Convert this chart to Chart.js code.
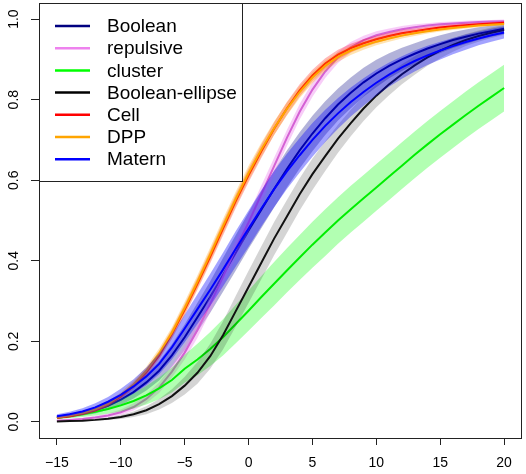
<!DOCTYPE html>
<html>
<head>
<meta charset="utf-8">
<script src="https://cdn.jsdelivr.net/npm/chart.js@4.4.1/dist/chart.umd.min.js"></script>
<style>
  body { margin: 0; background: #fff; }
  #wrap { width: 526px; height: 474px; }
</style>
</head>
<body>
<div id="wrap"><canvas id="cdfChart" width="526" height="474"></canvas></div>
<script>
// x positions of the curves (-15 .. 20)
var xValues = [-15,-14,-13,-12,-11,-10,-9,-8,-7,-6,-5,-4,-3,-2,-1,0,1,2,3,4,5,6,7,8,9,10,11,12,13,14,15,16,17,18,19,20];
var xTicks = [-15, -10, -5, 0, 5, 10, 15, 20];
var yTicks = [0, 0.2, 0.4, 0.6, 0.8, 1.0];

var seriesNames = ['Boolean', 'repulsive', 'cluster', 'Boolean-ellipse', 'Cell', 'DPP', 'Matern'];

// mean curves
var booleanMean = [0.011,0.015,0.021,0.029,0.040,0.055,0.074,0.098,0.127,0.165,0.210,0.260,0.310,0.365,0.420,0.475,0.527,0.578,0.628,0.674,0.716,0.754,0.788,0.817,0.843,0.865,0.884,0.900,0.914,0.927,0.938,0.948,0.956,0.964,0.970,0.976];
var repulsiveMean = [0.003,0.005,0.007,0.011,0.016,0.024,0.037,0.057,0.085,0.125,0.172,0.228,0.293,0.360,0.430,0.495,0.565,0.635,0.705,0.770,0.825,0.870,0.905,0.930,0.948,0.960,0.968,0.975,0.980,0.984,0.987,0.989,0.991,0.993,0.994,0.995];
var clusterMean = [0.010,0.014,0.019,0.025,0.032,0.041,0.052,0.066,0.083,0.104,0.132,0.155,0.181,0.210,0.243,0.276,0.310,0.343,0.376,0.408,0.440,0.470,0.500,0.528,0.555,0.582,0.609,0.636,0.663,0.689,0.714,0.738,0.762,0.785,0.807,0.829];
var ellipseMean = [0.001,0.002,0.003,0.005,0.008,0.012,0.019,0.029,0.044,0.064,0.090,0.122,0.163,0.215,0.275,0.335,0.395,0.455,0.510,0.565,0.615,0.660,0.703,0.742,0.778,0.810,0.838,0.863,0.885,0.905,0.922,0.936,0.948,0.958,0.966,0.973];
var cellMean = [0.010,0.014,0.020,0.029,0.043,0.063,0.090,0.123,0.165,0.218,0.278,0.343,0.410,0.480,0.548,0.612,0.672,0.728,0.778,0.823,0.860,0.890,0.912,0.928,0.940,0.950,0.958,0.965,0.970,0.975,0.979,0.982,0.985,0.987,0.989,0.991];
var dppMean = [0.011,0.016,0.022,0.031,0.045,0.066,0.093,0.127,0.170,0.222,0.283,0.348,0.416,0.486,0.554,0.618,0.676,0.729,0.777,0.819,0.855,0.884,0.906,0.922,0.934,0.944,0.952,0.959,0.965,0.970,0.974,0.978,0.981,0.984,0.986,0.988];
var maternMean = [0.014,0.019,0.026,0.036,0.050,0.067,0.088,0.113,0.144,0.185,0.232,0.280,0.328,0.378,0.430,0.480,0.530,0.578,0.622,0.662,0.700,0.735,0.766,0.794,0.819,0.842,0.862,0.880,0.896,0.910,0.922,0.933,0.943,0.952,0.960,0.967];

// half widths of the envelopes
var booleanSpread = [0.004,0.005,0.006,0.008,0.010,0.013,0.016,0.020,0.024,0.028,0.032,0.036,0.039,0.042,0.044,0.045,0.046,0.046,0.046,0.045,0.044,0.042,0.040,0.038,0.036,0.034,0.031,0.029,0.026,0.024,0.022,0.020,0.018,0.016,0.014,0.013];
var repulsiveSpread = [0.002,0.002,0.003,0.004,0.005,0.007,0.009,0.011,0.013,0.015,0.017,0.019,0.020,0.021,0.022,0.022,0.022,0.021,0.020,0.019,0.018,0.016,0.014,0.013,0.011,0.010,0.009,0.008,0.007,0.006,0.006,0.005,0.005,0.004,0.004,0.004];
var clusterSpread = [0.003,0.005,0.007,0.009,0.012,0.015,0.019,0.023,0.027,0.031,0.035,0.039,0.042,0.045,0.048,0.050,0.052,0.054,0.055,0.056,0.057,0.058,0.058,0.058,0.058,0.058,0.058,0.058,0.058,0.058,0.058,0.058,0.058,0.058,0.058,0.058];
var ellipseSpread = [0.001,0.001,0.002,0.002,0.003,0.005,0.007,0.010,0.013,0.017,0.022,0.027,0.031,0.035,0.038,0.040,0.041,0.041,0.041,0.040,0.039,0.037,0.035,0.033,0.031,0.029,0.027,0.025,0.023,0.021,0.019,0.017,0.015,0.014,0.013,0.012];
var cellSpread = [0.002,0.003,0.003,0.004,0.005,0.006,0.008,0.009,0.011,0.012,0.014,0.015,0.016,0.017,0.017,0.017,0.017,0.016,0.016,0.015,0.014,0.013,0.012,0.011,0.010,0.009,0.008,0.008,0.007,0.006,0.006,0.005,0.005,0.004,0.004,0.004];
var dppSpread = [0.002,0.003,0.004,0.005,0.006,0.007,0.009,0.010,0.012,0.013,0.015,0.016,0.017,0.018,0.018,0.018,0.017,0.017,0.016,0.015,0.014,0.013,0.012,0.011,0.010,0.009,0.008,0.007,0.007,0.006,0.005,0.005,0.004,0.004,0.004,0.003];
var maternSpread = [0.005,0.006,0.008,0.010,0.012,0.015,0.018,0.022,0.026,0.030,0.034,0.037,0.040,0.042,0.044,0.045,0.045,0.045,0.044,0.043,0.042,0.040,0.038,0.036,0.034,0.032,0.030,0.028,0.026,0.024,0.022,0.020,0.019,0.017,0.016,0.015];

var means = [booleanMean, repulsiveMean, clusterMean, ellipseMean, cellMean, dppMean, maternMean];
var spreads = [booleanSpread, repulsiveSpread, clusterSpread, ellipseSpread, cellSpread, dppSpread, maternSpread];
var legendColors = ['#000080', '#EE82EE', '#00FF00', '#000000', '#FF0000', '#FFA500', '#0000FF'];
var lineColors = ['#000080', '#D462D4', '#00EE00', '#111111', '#FF0000', '#FFA500', '#0000FF'];
var bandColors = ['rgba(0,0,128,0.3)', 'rgba(238,130,238,0.4)', 'rgba(0,255,0,0.3)', 'rgba(0,0,0,0.17)',
                  'rgba(255,0,0,0.28)', 'rgba(255,165,0,0.3)', 'rgba(0,0,255,0.36)'];

function toPoints(vals, spread, sign) {
    return xValues.map(function (x, k) {
        return { x: x, y: vals[k] + sign * (spread ? spread[k] : 0) };
    });
}

// each series: envelope then its line, later series painted over earlier ones
var datasets = [];
seriesNames.forEach(function (name, i) {
    var n = seriesNames.length;
    datasets.push({
        label: name + ' lower',
        data: toPoints(means[i], spreads[i], -1),
        borderColor: 'rgba(0,0,0,0)',
        borderWidth: 0,
        pointRadius: 0,
        fill: false,
        order: 50
    });
    datasets.push({
        label: name + ' upper',
        data: toPoints(means[i], spreads[i], 1),
        borderColor: 'rgba(0,0,0,0)',
        borderWidth: 0,
        backgroundColor: bandColors[i],
        pointRadius: 0,
        fill: datasets.length - 1,
        order: 2 * (n - i) + 1
    });
    datasets.push({
        label: name,
        data: toPoints(means[i], null, 0),
        borderColor: lineColors[i],
        borderWidth: 2,
        pointRadius: 0,
        fill: false,
        tension: 0,
        order: 2 * (n - i)
    });
});

var boxAndLabels = {
    id: 'boxAndLabels',
    afterDraw: function (chart) {
        var ctx = chart.ctx;
        var area = chart.chartArea;
        var yScale = chart.scales.y;
        ctx.save();
        // plot frame
        ctx.strokeStyle = '#222';
        ctx.lineWidth = 1;
        ctx.strokeRect(area.left + 0.5, area.top + 0.5, area.right - area.left - 1, area.bottom - area.top);
        // rotated y labels
        ctx.fillStyle = '#000';
        ctx.font = '14px "Liberation Sans", Arial, sans-serif';
        ctx.textAlign = 'center';
        ctx.textBaseline = 'middle';
        yTicks.forEach(function (v) {
            ctx.save();
            ctx.translate(14, yScale.getPixelForValue(v));
            ctx.rotate(-Math.PI / 2);
            ctx.fillText(v.toFixed(1), 0, 0);
            ctx.restore();
        });
        // legend
        var lx = area.left + 0.5, ly = area.top + 0.5;
        ctx.fillStyle = '#fff';
        ctx.fillRect(lx, ly, 203, 178);
        ctx.strokeRect(lx, ly, 203, 178);
        ctx.font = '19px "Liberation Sans", Arial, sans-serif';
        ctx.textAlign = 'left';
        seriesNames.forEach(function (name, i) {
            var ry = 26 + i * 22.2;
            ctx.strokeStyle = legendColors[i];
            ctx.lineWidth = 2.5;
            ctx.beginPath();
            ctx.moveTo(55, ry);
            ctx.lineTo(90, ry);
            ctx.stroke();
            ctx.fillStyle = '#000';
            ctx.fillText(name, 107, ry + 1);
        });
        ctx.restore();
    }
};

var ctx = document.getElementById('cdfChart').getContext('2d');
var myChart = new Chart(ctx, {
    type: 'line',
    data: { datasets: datasets },
    options: {
        responsive: false,
        animation: false,
        events: [],
        layout: { padding: { left: 0, right: 4, top: 3, bottom: 0 } },
        plugins: {
            legend: { display: false },
            tooltip: { enabled: false },
            filler: { propagate: false }
        },
        scales: {
            x: {
                type: 'linear',
                min: -16.4,
                max: 21.4,
                afterBuildTicks: function (s) { s.ticks = xTicks.map(function (v) { return { value: v }; }); },
                afterFit: function (s) { s.height = 36; },
                border: { display: false },
                grid: { drawOnChartArea: false, drawTicks: true, tickLength: 7, color: '#222', tickColor: '#222' },
                ticks: {
                    padding: 10,
                    color: '#000',
                    maxRotation: 0,
                    font: { family: '"Liberation Sans", Arial, sans-serif', size: 14 },
                    callback: function (v) { return v < 0 ? '\u2212' + Math.abs(v) : String(v); }
                }
            },
            y: {
                type: 'linear',
                min: -0.04,
                max: 1.04,
                afterBuildTicks: function (s) { s.ticks = yTicks.map(function (v) { return { value: v }; }); },
                afterFit: function (s) { s.width = 39; },
                border: { display: false },
                grid: { drawOnChartArea: false, drawTicks: true, tickLength: 8, color: '#222', tickColor: '#222' },
                ticks: { display: false }
            }
        }
    },
    plugins: [boxAndLabels]
});
</script>
</body>
</html>
